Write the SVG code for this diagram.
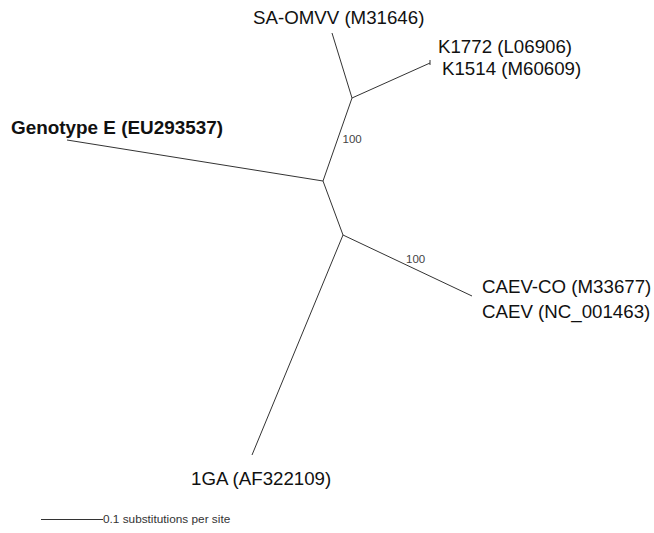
<svg xmlns="http://www.w3.org/2000/svg" width="654" height="533" viewBox="0 0 654 533">
<style>
.lbl{font-family:"Liberation Sans",Arial,sans-serif;font-size:18.7px;fill:#111}
.bold{font-weight:bold;font-size:18.9px}
.bs{font-family:"Liberation Sans",Arial,sans-serif;font-size:11.5px;fill:#444}
.sc{font-family:"Liberation Sans",Arial,sans-serif;font-size:11.8px;fill:#333}
.br{stroke:#333;stroke-width:1;fill:none}
</style>
<rect width="654" height="533" fill="#fff"/>
<g id="connectors">
<line class="br" x1="323" y1="181" x2="67" y2="140"/>
<line class="br" x1="323" y1="181" x2="352" y2="98"/>
<line class="br" x1="352" y1="98" x2="332" y2="33"/>
<line class="br" x1="352" y1="98" x2="430" y2="63"/>
<line class="br" x1="430" y1="60" x2="430" y2="65"/>
<line class="br" x1="323" y1="181" x2="343" y2="235"/>
<line class="br" x1="343" y1="235" x2="472" y2="296"/>
<line class="br" x1="343" y1="235" x2="252" y2="455"/>
</g>
<g id="bootstrap">
<text class="bs" x="342.5" y="143">100</text>
<text class="bs" x="406" y="263">100</text>
</g>
<g id="n-saomvv"><text class="lbl" x="253" y="24">SA-OMVV (M31646)</text></g>
<g id="n-k1772"><text class="lbl" x="438" y="53">K1772 (L06906)</text></g>
<g id="n-k1514"><text class="lbl" x="442" y="75">K1514 (M60609)</text></g>
<g id="n-genoE"><text class="lbl bold" x="11" y="134">Genotype E (EU293537)</text></g>
<g id="n-caevco"><text class="lbl" x="482" y="293">CAEV-CO (M33677)</text></g>
<g id="n-caev"><text class="lbl" x="482" y="318">CAEV (NC_001463)</text></g>
<g id="n-1ga"><text class="lbl" x="191" y="485">1GA (AF322109)</text></g>
<g id="scale">
<line class="br" x1="41" y1="519.5" x2="103" y2="519.5"/>
<text class="sc" x="103" y="523">0.1 substitutions per site</text>
</g>
</svg>
